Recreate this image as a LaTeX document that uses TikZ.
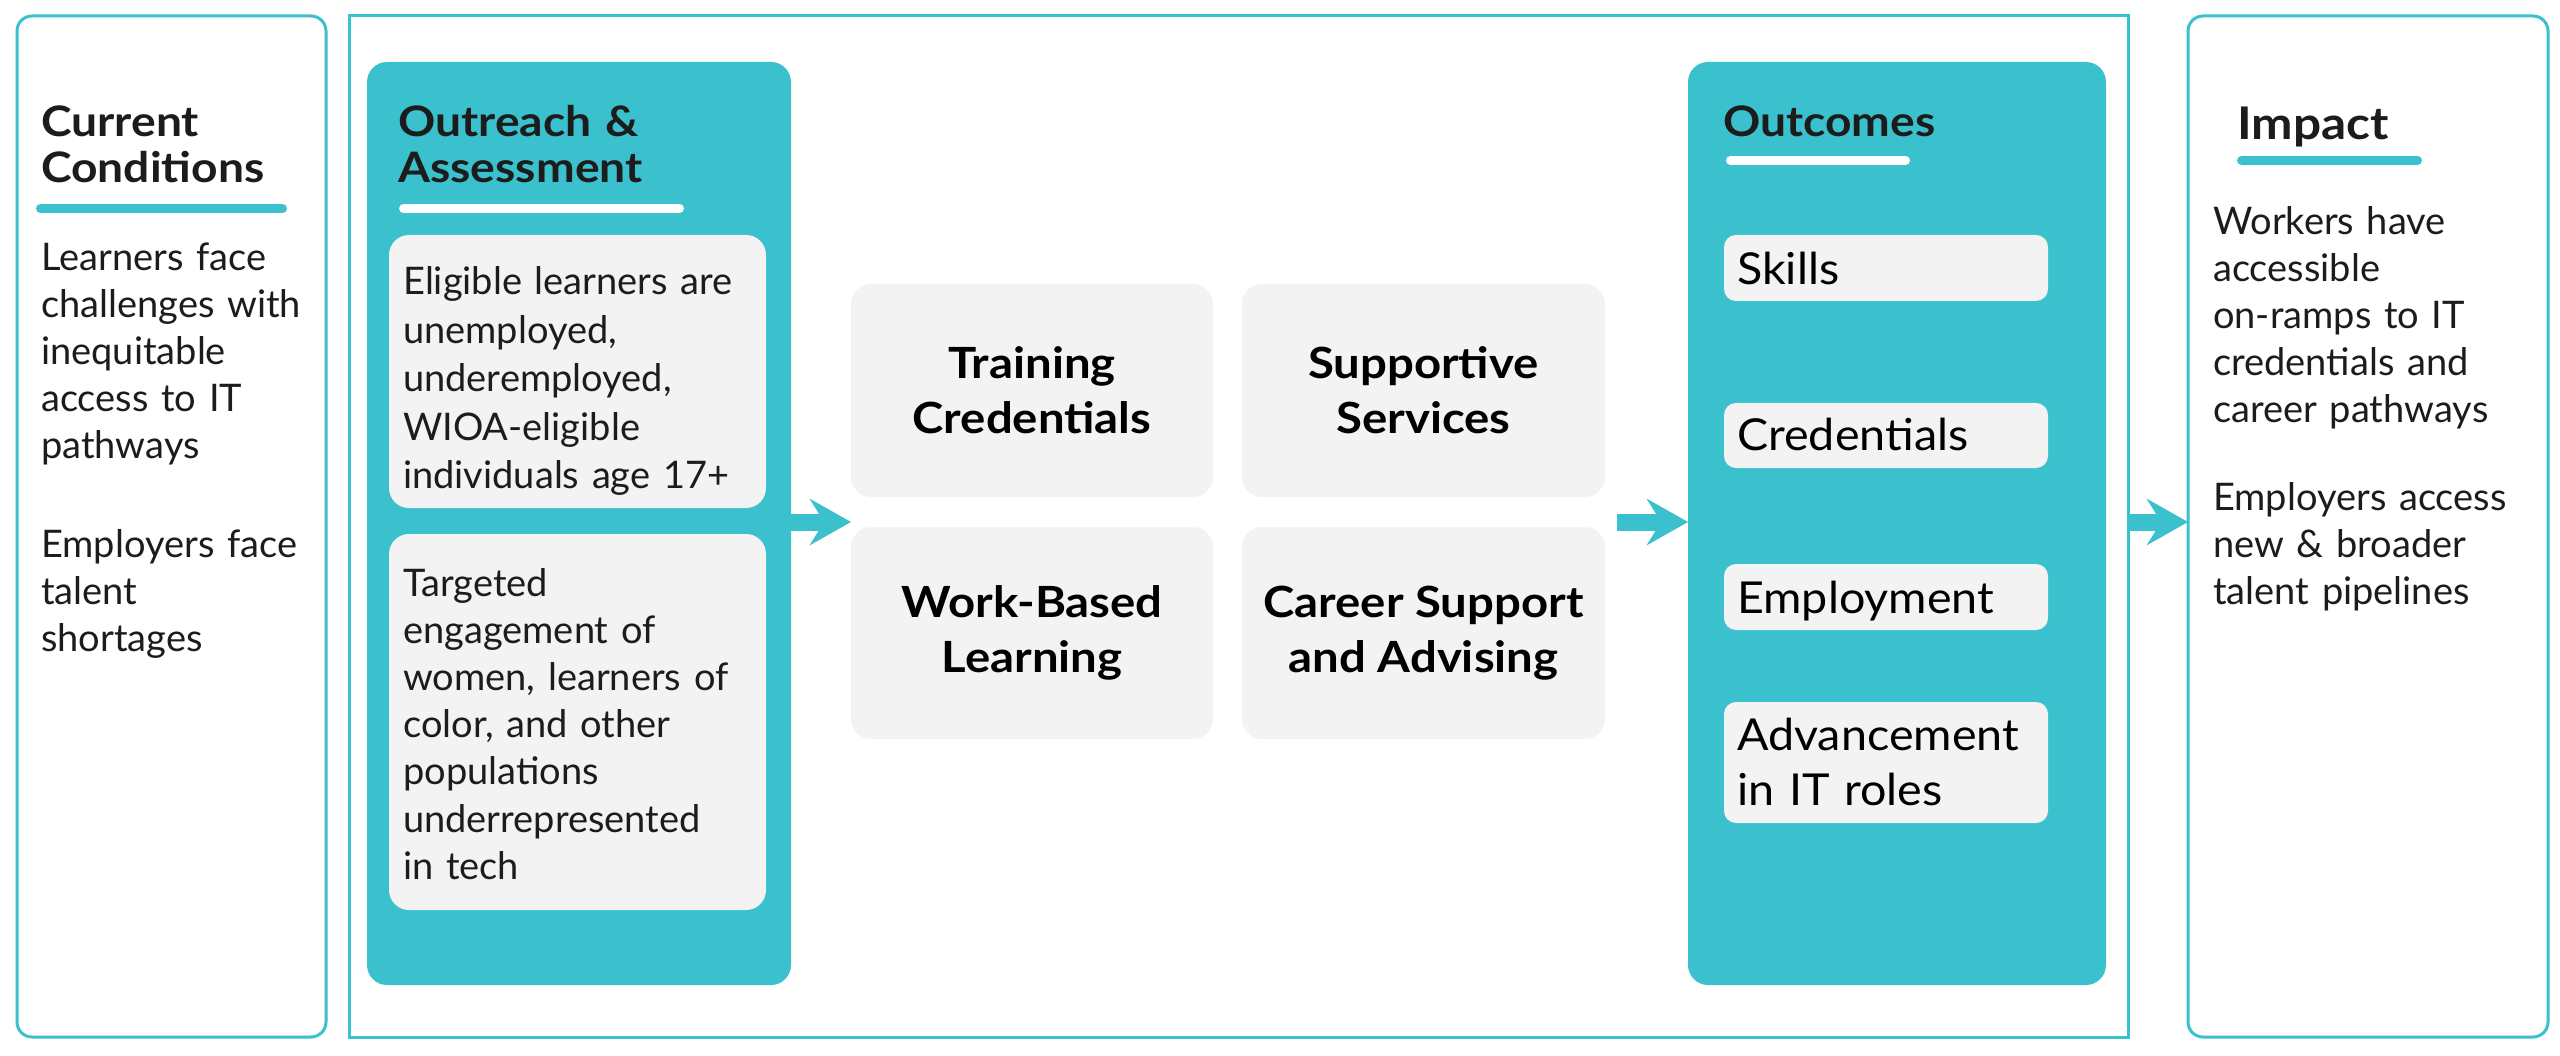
\documentclass[tikz,border=0pt]{standalone}
\usepackage{fontspec}
\setmainfont{Lato}[BoldFeatures={FakeStretch=1.1}]
\newfontfamily\outfont{Lato}[FakeStretch=1.06]
\usetikzlibrary{arrows.meta,calc}
\definecolor{tealc}{HTML}{3BC1CD}
\definecolor{cardgrey}{HTML}{F3F3F3}
\definecolor{ink}{HTML}{1C1C1C}
\begin{document}
\begin{tikzpicture}[x=1pt,y=-1pt,
  outline/.style={draw=tealc,line width=3pt,fill=white,inner sep=0pt,outer sep=0pt,anchor=north west},
  panel/.style={fill=tealc,rounded corners=20pt,inner sep=0pt,outer sep=0pt,anchor=north west},
  card/.style={fill=cardgrey,rounded corners=20pt,inner sep=0pt,outer sep=0pt,anchor=north west},
  smallcard/.style={fill=cardgrey,rounded corners=12pt,inner sep=0pt,outer sep=0pt,anchor=north west,minimum width=324pt},
  bodytext/.style={font=\fontsize{38}{47}\selectfont,text=ink,align=left,text width=420pt,inner sep=0pt,anchor=base west},
  titletext/.style={font=\bfseries\fontsize{42}{46}\selectfont,text=ink,align=left,text width=420pt,inner sep=0pt,anchor=base west},
  gridtext/.style={font=\bfseries\fontsize{43}{55}\selectfont,text=black,align=center},
  outtext/.style={font=\outfont\fontsize{44}{55}\selectfont,text=black,align=left,text width=320pt,inner sep=0pt,anchor=base west},
  bar/.style={line width=9pt,line cap=round},
  bigarrow/.style={draw=tealc,line width=17pt,-{Stealth[length=41pt,width=46pt,inset=14pt]}}
]
\useasboundingbox (0,0) rectangle (2560,1056);
\fill[white] (0,0) rectangle (2560,1056);

% outer frames
\node[outline,rounded corners=15pt,minimum width=309pt,minimum height=1021pt] (cc) at (17,16) {};
\node[outline,minimum width=1779pt,minimum height=1021pt] (mid) at (349,16) {};
\node[outline,rounded corners=15pt,minimum width=360pt,minimum height=1021pt] (imp) at (2188,16) {};

% teal panels
\node[panel,minimum width=424pt,minimum height=923pt] (outreach) at (367,62) {};
\node[panel,minimum width=418pt,minimum height=923pt] (outcomes) at (1688,62) {};

% Current conditions
\node[titletext] (cctitle) at (41,137) {Current\\Conditions};
\draw[bar,tealc] (40.5,208.5) -- (282.5,208.5);
\node[bodytext] (cc1) at (41,271) {Learners face\\challenges with\\inequitable\\access to IT\\pathways};
\node[bodytext] (cc2) at (41,557) {Employers face\\talent\\shortages};

% Outreach
\node[titletext] (ortitle) at (398,137) {Outreach \&\\Assessment};
\draw[bar,white] (403.5,208.5) -- (679.5,208.5);
\node[card,minimum width=377pt,minimum height=273pt] (elig) at (389,235) {};
\node[bodytext,font=\fontsize{38}{48.5}\selectfont] (eligt) at (403,295) {Eligible learners are\\unemployed,\\underemployed,\\WIOA-eligible\\individuals age 17+};
\node[card,minimum width=377pt,minimum height=376pt] (targ) at (389,534) {};
\node[bodytext,font=\fontsize{38}{47.2}\selectfont] (targt) at (403,596) {Targeted\\engagement of\\women, learners of\\color, and other\\populations\\underrepresented\\in tech};

% grid
\node[card,minimum width=362pt,minimum height=213pt,gridtext] (train) at (851,284) {Training\\Credentials};
\node[card,minimum width=363pt,minimum height=213pt,gridtext] (supp) at (1242,284) {Supportive\\Services};
\node[card,minimum width=362pt,minimum height=212pt,gridtext] (work) at (851,527) {Work-Based\\Learning};
\node[card,minimum width=363pt,minimum height=212pt,gridtext] (career) at (1242,527) {Career Support\\and Advising};

% Outcomes
\node[titletext] (outtitle) at (1723,137) {Outcomes};
\draw[bar,white] (1730.5,160.5) -- (1905.5,160.5);
\node[smallcard,minimum height=66pt] (skills) at (1724,235) {};
\node[outtext] (skillst) at (1737,285) {Skills};
\node[smallcard,minimum height=65pt] (cred) at (1724,403) {};
\node[outtext] (credt) at (1737,450) {Credentials};
\node[smallcard,minimum height=66pt] (emp) at (1724,564) {};
\node[outtext] (empt) at (1737,613) {Employment};
\node[smallcard,minimum height=121pt] (adv) at (1724,702) {};
\node[outtext] (advt) at (1737,750) {Advancement\\in IT roles};

% Impact
\node[titletext,font=\bfseries\fontsize{45}{46}\selectfont] (imptitle) at (2237,140) {Impact};
\draw[bar,tealc] (2241.5,160.5) -- (2417.5,160.5);
\node[bodytext] (imp1) at (2213,235) {Workers have\\accessible\\on-ramps to IT\\credentials and\\career pathways};
\node[bodytext] (imp2) at (2213,510) {Employers access\\new \& broader\\talent pipelines};

% arrows
\coordinate (ay) at (0,522);
\draw[bigarrow] (outreach.east |- ay) -- (train.west |- ay);
\draw[bigarrow] ($(supp.east |- ay)+(12,0)$) -- (outcomes.west |- ay);
\draw[bigarrow] (mid.east |- ay) -- (imp.west |- ay);
\end{tikzpicture}
\end{document}
